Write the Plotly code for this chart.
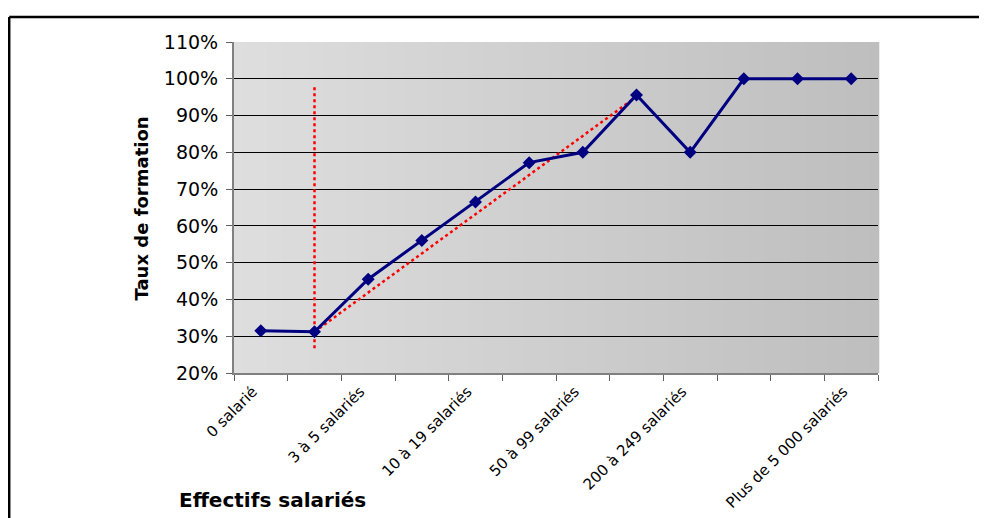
import plotly.graph_objects as go

# ---- data ----
category_index = list(range(12))
taux_formation = [0.315, 0.312, 0.455, 0.56, 0.665, 0.772, 0.80, 0.956, 0.80, 1.00, 1.00, 1.00]
label_index = [0, 2, 4, 6, 8, 11]
label_text = ["0 salarié", "3 à 5 salariés", "10 à 19 salariés", "50 à 99 salariés",
              "200 à 249 salariés", "Plus de 5 000 salariés"]
trend_x = [1.0, 6.93]
trend_y = [0.312, 0.944]
vline_x = [1.0, 1.0]
vline_y = [0.267, 0.984]
y_ticks = [0.2, 0.3, 0.4, 0.5, 0.6, 0.7, 0.8, 0.9, 1.0, 1.1]

OFF = 8  # page body margin
W, H = 987 - OFF, 518 - OFF
L, R, T, B = 234 - OFF, 878 - OFF, 42 - OFF, 373 - OFF
FONT = "DejaVu Sans, Verdana, sans-serif"

fig = go.Figure()
fig.add_trace(go.Scatter(x=trend_x, y=trend_y, mode="lines",
                         line=dict(color="#ff0000", width=2.5, dash="dot"),
                         hoverinfo="skip", showlegend=False))
fig.add_trace(go.Scatter(x=vline_x, y=vline_y, mode="lines",
                         line=dict(color="#ff0000", width=2.5, dash="dot"),
                         hoverinfo="skip", showlegend=False))
fig.add_trace(go.Scatter(x=category_index, y=taux_formation, mode="lines+markers",
                         line=dict(color="#000080", width=3),
                         marker=dict(symbol="diamond", size=10, color="#000080"),
                         showlegend=False))

shapes = []
# gradient background of plot area
N = 80
c0, c1 = 222, 190
for i in range(N):
    v = round(c0 + (c1 - c0) * (i + 0.5) / N)
    col = f"rgb({v},{v},{v})"
    shapes.append(dict(type="rect", xref="x domain", yref="y domain",
                       x0=i / N, x1=(i + 1) / N + 0.002, y0=0, y1=1,
                       fillcolor=col, line=dict(width=0), layer="below"))

def px_x(p):
    return (p - OFF - L) / (R - L)

def px_y(p):
    return (B - (p - OFF)) / (B - T)

# outer frame
shapes.append(dict(type="line", xref="paper", yref="paper",
                   x0=px_x(9.2), x1=px_x(990), y0=px_y(17), y1=px_y(17),
                   line=dict(color="black", width=2.5)))
shapes.append(dict(type="line", xref="paper", yref="paper",
                   x0=px_x(9.2), x1=px_x(9.2), y0=px_y(17), y1=px_y(530),
                   line=dict(color="black", width=2.5)))

fig.update_layout(
    width=W, height=H,
    margin=dict(l=L, r=W - R, t=T, b=H - B, autoexpand=False),
    paper_bgcolor="white", plot_bgcolor="rgba(0,0,0,0)",
    font=dict(family=FONT, color="black"),
    shapes=shapes,
    xaxis=dict(range=[-0.5, 11.5], tickmode="array", tickvals=label_index,
               ticktext=label_text, tickangle=-45, ticks="", automargin=False,
               tickfont=dict(size=15, family=FONT),
               ticklabelshift=-8, ticklabelstandoff=2,
               showgrid=False, zeroline=False,
               showline=True, linecolor="#808080", linewidth=2,
               minor=dict(tickmode="linear", tick0=-0.5, dtick=1, ticks="outside",
                          ticklen=6, tickcolor="#606060", tickwidth=1, showgrid=False)),
    yaxis=dict(range=[0.2, 1.1], tickmode="array", tickvals=y_ticks,
               tickformat=".0%", tickfont=dict(size=19, family=FONT),
               ticks="outside", ticklen=6, tickcolor="#606060", automargin=False,
               ticklabelstandoff=4,
               showgrid=True, gridcolor="#000000", gridwidth=1,
               zeroline=False, showline=True, linecolor="#808080", linewidth=2),
    annotations=[
        dict(text="<b>Taux de formation</b>", xref="paper", yref="paper",
             x=px_x(128), y=px_y(209), textangle=-90, showarrow=False,
             font=dict(size=18, family=FONT)),
        dict(text="<b>Effectifs salariés</b>", xref="paper", yref="paper",
             x=px_x(177), y=px_y(500), xanchor="left", yanchor="middle",
             showarrow=False, font=dict(size=20, family=FONT)),
    ],
)

fig.write_html("out.html")
